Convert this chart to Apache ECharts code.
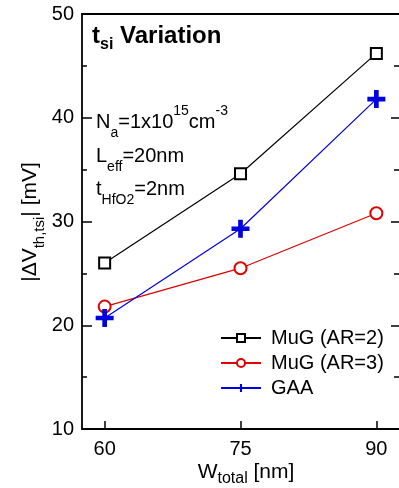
<!DOCTYPE html>
<html>
<head>
<meta charset="utf-8">
<script src="https://cdn.jsdelivr.net/npm/echarts@6/dist/echarts.min.js"></script>
<style>html,body{margin:0;padding:0;background:#fff;overflow:hidden;}#c{width:399px;height:488px;}</style>
</head>
<body>
<div id="c"></div>
<script>
const wTotal = [60, 75, 90];
const xTickValues = [60, 75, 90];
const mugAR2 = [26.0, 34.6, 46.2];
const mugAR3 = [21.8, 25.5, 30.8];
const gaa = [20.7, 29.3, 41.8];
const seriesNames = ['MuG (AR=2)', 'MuG (AR=3)', 'GAA'];

const FONT = '"Liberation Sans", Arial, sans-serif';
const plusPath = 'path://M-1.3,-5H1.3V-1.3H5V1.3H1.3V5H-1.3V1.3H-5V-1.3H-1.3Z';

function pairs(vals) { return wTotal.map((w, i) => [w, vals[i]]); }

const chart = echarts.init(document.getElementById('c'), null, {renderer: 'canvas'});
const axisLine = {show: true, lineStyle: {color: '#000', width: 1.8}};

chart.setOption({
  animation: false,
  backgroundColor: '#fff',
  grid: {left: 82, top: 14, right: -2, bottom: 59, containLabel: false},
  xAxis: [{
    type: 'value', min: 57.5, max: 92.5, position: 'bottom',
    axisLine: axisLine,
    axisTick: {show: true, inside: true, length: 8, customValues: xTickValues, lineStyle: {color: '#000', width: 1.5}},
    axisLabel: {customValues: xTickValues, color: '#000', fontSize: 20, fontFamily: FONT, margin: 10},
    splitLine: {show: false}
  }, {
    type: 'value', min: 57.5, max: 92.5, position: 'top',
    axisLine: axisLine, axisTick: {show: false}, axisLabel: {show: false}, splitLine: {show: false}
  }],
  yAxis: [{
    type: 'value', min: 10, max: 50, interval: 10, position: 'left',
    axisLine: axisLine,
    axisTick: {show: true, inside: true, length: 10, lineStyle: {color: '#000', width: 1.5}},
    minorTick: {show: true, splitNumber: 2, length: 5, lineStyle: {color: '#000', width: 1.5}},
    axisLabel: {color: '#000', fontSize: 20, fontFamily: FONT, margin: 8},
    splitLine: {show: false}
  }, {
    type: 'value', min: 10, max: 50, interval: 10, position: 'right',
    axisLine: {show: false},
    axisTick: {show: true, inside: true, length: 8, lineStyle: {color: '#000', width: 1.5}},
    minorTick: {show: true, splitNumber: 2, length: 5, lineStyle: {color: '#000', width: 1.5}},
    axisLabel: {show: false}, splitLine: {show: false}
  }],
  legend: {
    orient: 'vertical', left: 215, top: 323, itemWidth: 40, itemHeight: 10, itemGap: 5,
    textStyle: {color: '#000', fontSize: 20, fontFamily: FONT, padding: [0, 0, 0, 5]},
    data: seriesNames
  },
  series: [{
    name: seriesNames[0], type: 'line', data: pairs(mugAR2),
    symbol: 'emptyRect', symbolSize: 11,
    lineStyle: {color: '#000', width: 1.2}, itemStyle: {color: '#000', borderWidth: 2}
  }, {
    name: seriesNames[1], type: 'line', data: pairs(mugAR3),
    symbol: 'emptyCircle', symbolSize: 12,
    lineStyle: {color: '#e00000', width: 1.2}, itemStyle: {color: '#e00000', borderWidth: 2}
  }, {
    name: seriesNames[2], type: 'line', data: pairs(gaa),
    symbol: plusPath, symbolSize: 18,
    lineStyle: {color: '#0000e0', width: 1.2}, itemStyle: {color: '#0000e0', borderWidth: 0}
  }],
  graphic: [{
    type: 'text', left: 92, top: 24,
    style: {
      text: '{b|t}{bs|si}{b| Variation}', fill: '#000',
      rich: {
        b: {fontSize: 24, fontWeight: 'bold', fontFamily: FONT, lineHeight: 34, verticalAlign: 'middle'},
        bs: {fontSize: 16, fontWeight: 'bold', fontFamily: FONT, lineHeight: 16, verticalAlign: 'bottom'}
      }
    }
  }, {
    type: 'text', left: 96, top: 104,
    style: {
      text: '{n|N}{s|a}{n|=1x10}{p|15}{n|cm}{p|-3}', fill: '#000',
      rich: {
        n: {fontSize: 20, fontFamily: FONT, lineHeight: 36, verticalAlign: 'middle'},
        s: {fontSize: 14, fontFamily: FONT, lineHeight: 14, verticalAlign: 'bottom'},
        p: {fontSize: 14, fontFamily: FONT, lineHeight: 14, verticalAlign: 'top'}
      }
    }
  }, {
    type: 'text', left: 96, top: 146,
    style: {
      text: '{n|L}{s|eff}{n|=20nm}', fill: '#000',
      rich: {
        n: {fontSize: 20, fontFamily: FONT, lineHeight: 36, verticalAlign: 'middle'},
        s: {fontSize: 14, fontFamily: FONT, lineHeight: 14, verticalAlign: 'bottom'}
      }
    }
  }, {
    type: 'text', left: 96, top: 179,
    style: {
      text: '{n|t}{s|HfO2}{n|=2nm}', fill: '#000',
      rich: {
        n: {fontSize: 20, fontFamily: FONT, lineHeight: 36, verticalAlign: 'middle'},
        s: {fontSize: 14, fontFamily: FONT, lineHeight: 14, verticalAlign: 'bottom'}
      }
    }
  }, {
    type: 'text', x: 30, y: 222, rotation: Math.PI / 2,
    style: {
      text: '{n||ΔV}{s|th,tsi}{n|| [mV]}', fill: '#000', align: 'center', verticalAlign: 'middle',
      rich: {
        n: {fontSize: 21, fontFamily: FONT, lineHeight: 34, verticalAlign: 'middle'},
        s: {fontSize: 15, fontFamily: FONT, lineHeight: 15, verticalAlign: 'bottom'}
      }
    }
  }, {
    type: 'text', x: 246, y: 472,
    style: {
      text: '{n|W}{s|total}{n| [nm]}', fill: '#000', align: 'center', verticalAlign: 'middle',
      rich: {
        n: {fontSize: 21, fontFamily: FONT, lineHeight: 30, verticalAlign: 'middle'},
        s: {fontSize: 16, fontFamily: FONT, lineHeight: 16, verticalAlign: 'bottom'}
      }
    }
  }]
});
</script>
</body>
</html>
